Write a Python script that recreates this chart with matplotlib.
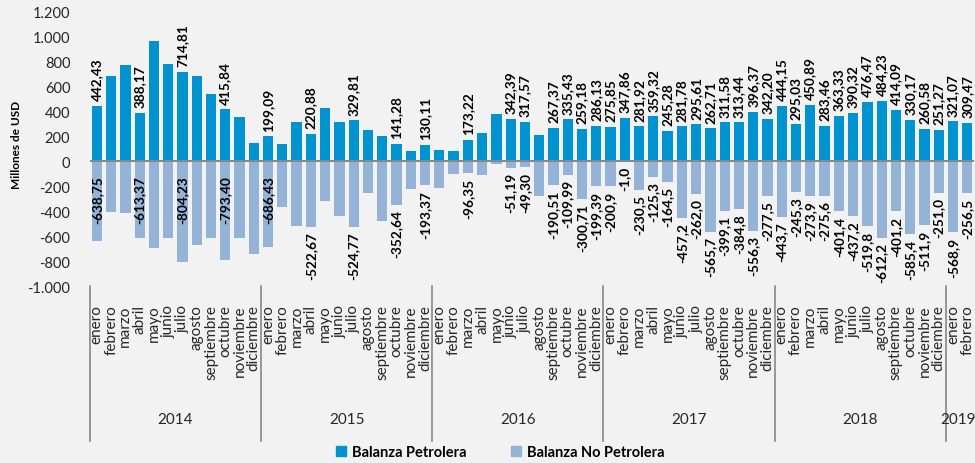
import matplotlib
matplotlib.use("Agg")
import matplotlib.pyplot as plt
import matplotlib.transforms as mtransforms
from matplotlib.patches import Patch

plt.rcParams['font.family'] = ['Lato', 'DejaVu Sans']

# --- data ---
months = ["enero", "febrero", "marzo", "abril", "mayo", "junio", "julio",
          "agosto", "septiembre", "octubre", "noviembre", "diciembre"]
years = ["2014", "2015", "2016", "2017", "2018", "2019"]
months_per_year = [12, 12, 12, 12, 12, 2]

petrolera = [
    442.43, 680, 768, 388.17, 960, 781, 714.81, 680, 536, 415.84, 352, 144,
    199.09, 136, 312, 220.88, 424, 317, 329.81, 250, 202, 141.28, 82, 130.11,
    88, 85, 173.22, 224, 378, 342.39, 317.57, 208, 267.37, 335.43, 259.18, 286.13,
    275.85, 347.86, 281.92, 359.32, 245.28, 281.78, 295.61, 262.71, 311.58, 313.44, 396.37, 342.20,
    444.15, 295.03, 450.89, 283.46, 363.33, 390.32, 476.47, 484.23, 414.09, 330.17, 260.58, 251.27,
    321.07, 309.47,
]
no_petrolera = [
    -638.75, -403, -414, -613.37, -691, -616, -804.23, -670, -611, -793.40, -611, -742,
    -686.43, -366, -515, -522.67, -318, -435, -524.77, -254, -480, -352.64, -222, -193.37,
    -211, -104, -96.35, -110, -22, -51.19, -49.30, -275, -190.51, -109.99, -300.71, -199.39,
    -200.9, -1.0, -230.5, -125.3, -164.5, -457.2, -262.0, -565.7, -399.1, -384.8, -556.3, -277.5,
    -443.7, -245.3, -273.9, -275.6, -401.4, -437.2, -519.8, -612.2, -401.2, -585.4, -511.9, -251.0,
    -568.9, -256.5,
]
pet_labels = [
    "442,43", None, None, "388,17", None, None, "714,81", None, None, "415,84", None, None,
    "199,09", None, None, "220,88", None, None, "329,81", None, None, "141,28", None, "130,11",
    None, None, "173,22", None, None, "342,39", "317,57", None, "267,37", "335,43", "259,18", "286,13",
    "275,85", "347,86", "281,92", "359,32", "245,28", "281,78", "295,61", "262,71", "311,58", "313,44", "396,37", "342,20",
    "444,15", "295,03", "450,89", "283,46", "363,33", "390,32", "476,47", "484,23", "414,09", "330,17", "260,58", "251,27",
    "321,07", "309,47",
]
nopet_labels = [
    "-638,75", None, None, "-613,37", None, None, "-804,23", None, None, "-793,40", None, None,
    "-686,43", None, None, "-522,67", None, None, "-524,77", None, None, "-352,64", None, "-193,37",
    None, None, "-96,35", None, None, "-51,19", "-49,30", None, "-190,51", "-109,99", "-300,71", "-199,39",
    "-200,9", "-1,0", "-230,5", "-125,3", "-164,5", "-457,2", "-262,0", "-565,7", "-399,1", "-384,8", "-556,3", "-277,5",
    "-443,7", "-245,3", "-273,9", "-275,6", "-401,4", "-437,2", "-519,8", "-612,2", "-401,2", "-585,4", "-511,9", "-251,0",
    "-568,9", "-256,5",
]
yticks = [-1000, -800, -600, -400, -200, 0, 200, 400, 600, 800, 1000, 1200]

c_pet = "#0093D0"
c_nopet = "#95B3D7"
gray = "#888888"

month_names = []
for n in months_per_year:
    month_names += months[:n]
x = list(range(len(petrolera)))

fig = plt.figure(figsize=(9.75, 4.64), dpi=100)
fig.patch.set_facecolor("#f2f2f2")
ax = fig.add_axes([0.092, 0.3808, 0.9074, 0.5927])
ax.set_facecolor("none")

ax.bar(x, petrolera, width=0.72, color=c_pet, zorder=2)
ax.bar(x, no_petrolera, width=0.72, color=c_nopet, zorder=2)
ax.axhline(0, color=gray, lw=1.5, zorder=3)

for i in x:
    if pet_labels[i]:
        ax.annotate(pet_labels[i], (i, petrolera[i]), xytext=(0, 4), textcoords="offset points",
                    rotation=90, ha="center", va="bottom", fontsize=9.8, fontweight="bold")
    if nopet_labels[i]:
        if i <= 12:
            # first labels sit just under the zero line, inside the bar
            ax.annotate(nopet_labels[i], (i, 0), xytext=(0, -10), textcoords="offset points",
                        rotation=90, ha="center", va="top", fontsize=9.8, fontweight="bold")
        else:
            ax.annotate(nopet_labels[i], (i, no_petrolera[i]), xytext=(0, -3), textcoords="offset points",
                        rotation=90, ha="center", va="top", fontsize=9.8, fontweight="bold")

ax.set_xlim(-0.5, len(x) - 0.5)
ax.set_ylim(-1000, 1200)
ax.set_yticks(yticks)
ax.set_yticklabels([f"{v:,}".replace(",", ".") for v in yticks], fontsize=10.5, color="#262626")
ax.set_xticks(x)
ax.set_xticklabels(month_names, rotation=90, va="top", ha="center", fontsize=11, color="#262626")
ax.tick_params(axis="y", length=0, pad=14)
ax.tick_params(axis="x", length=0, pad=13)
for s in ax.spines.values():
    s.set_visible(False)

# year groups and separators
trans = mtransforms.blended_transform_factory(ax.transData, ax.transAxes)
start = 0
for yr, n in zip(years, months_per_year):
    ax.plot([start - 0.5, start - 0.5], [0, -0.5625], transform=trans, color=gray,
            lw=1.2, clip_on=False)
    xc = min(start + n / 2 - 0.5, len(x) - 1.65)
    ax.text(xc, -0.4825, yr, transform=trans, ha="center", va="center",
            fontsize=11, color="#262626")
    start += n

fig.text(0.0174, 0.6875, "Millones de USD", rotation=90, ha="center", va="center",
         fontsize=8.5, fontweight="bold")

handles = [Patch(color=c_pet, label="Balanza Petrolera"),
           Patch(color=c_nopet, label="Balanza No Petrolera")]
fig.legend(handles=handles, loc="center", bbox_to_anchor=(0.513, 0.024), ncol=2,
           frameon=False, handlelength=0.7, handleheight=0.7, handletextpad=0.4,
           columnspacing=3.0, prop={"weight": "bold", "size": 10.5})

fig.savefig("out.png", dpi=100, facecolor=fig.get_facecolor())
